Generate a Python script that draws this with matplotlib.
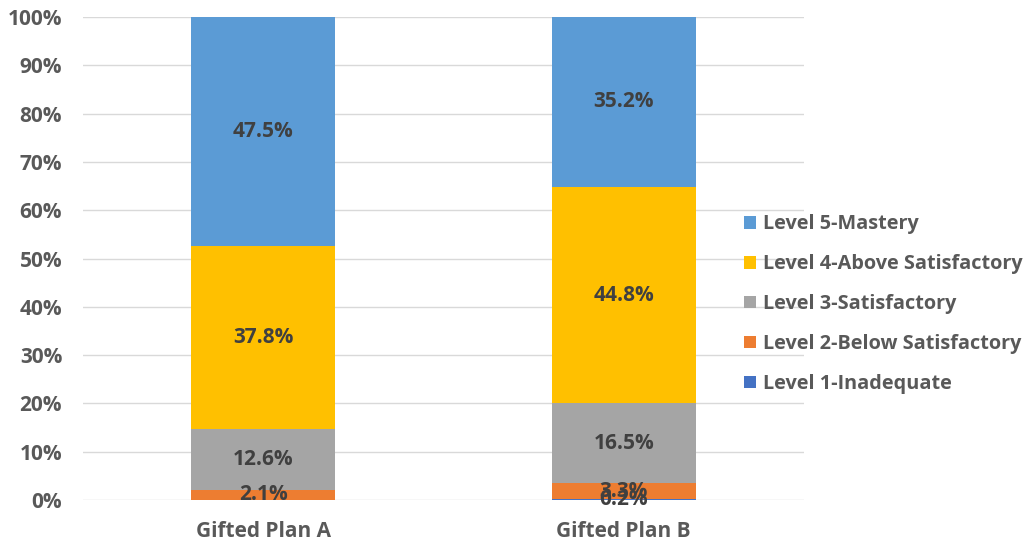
import matplotlib.pyplot as plt
import numpy as np

plt.rcParams['font.family'] = ['Open Sans', 'DejaVu Sans']

categories = ["Gifted Plan A", "Gifted Plan B"]
levels = ["Level 1-Inadequate", "Level 2-Below Satisfactory", "Level 3-Satisfactory",
          "Level 4-Above Satisfactory", "Level 5-Mastery"]
values = {
    "Level 1-Inadequate": [0.0, 0.2],
    "Level 2-Below Satisfactory": [2.1, 3.3],
    "Level 3-Satisfactory": [12.6, 16.5],
    "Level 4-Above Satisfactory": [37.8, 44.8],
    "Level 5-Mastery": [47.5, 35.2],
}
colors = ["#4472c4", "#ed7d31", "#a5a5a5", "#ffc000", "#5b9bd5"]

fig = plt.figure(figsize=(10.32, 5.46), dpi=100)
ax = fig.add_axes([0.0804, 0.0842, 0.6986, 0.8847])

x = np.arange(len(categories))
bottom = np.zeros(len(categories))
handles = []
for lvl, c in zip(levels, colors):
    v = np.array(values[lvl])
    b = ax.bar(x, v, 0.4, bottom=bottom, color=c, label=lvl, zorder=2)
    handles.append(b)
    for xi, vi, bi in zip(x, v, bottom):
        if vi > 0:
            ax.text(xi, bi + vi / 2, f"{vi:.1f}%", ha="center", va="center",
                    fontsize=15, fontweight="bold", color="#404040", zorder=3)
    bottom += v

ax.set_xlim(-0.5, 1.5)
ax.set_ylim(0, 100)
ax.set_yticks(np.arange(0, 101, 10))
ax.set_yticklabels([f"{t}%" for t in range(0, 101, 10)])
ax.set_xticks(x)
ax.set_xticklabels(categories)
ax.tick_params(length=0, labelsize=15, labelcolor="#595959")
ax.tick_params(axis="y", pad=15)
ax.tick_params(axis="x", pad=15)
for lab in ax.get_xticklabels() + ax.get_yticklabels():
    lab.set_fontweight("bold")
ax.yaxis.grid(True, color="#d9d9d9", linewidth=1, zorder=0)
for s in ax.spines.values():
    s.set_visible(False)

leg = fig.legend(handles[::-1], levels[::-1], loc="upper left",
                 bbox_to_anchor=(0.7035, 0.64), frameon=False,
                 handlelength=0.6, handleheight=0.6, handletextpad=0.35,
                 labelspacing=1.0, prop={"size": 14.3, "weight": "bold"})
for t in leg.get_texts():
    t.set_color("#595959")

fig.savefig("out.png", dpi=100)
